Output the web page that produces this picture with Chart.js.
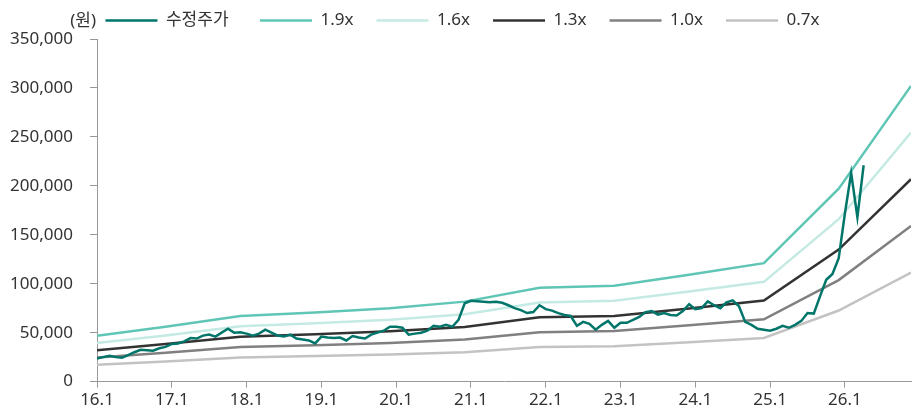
<!DOCTYPE html>
<html>
<head>
<meta charset="utf-8">
<script src="https://cdn.jsdelivr.net/npm/chart.js@4"></script>
<style>
  html, body { margin: 0; padding: 0; background: #fff; }
  #wrap { width: 915px; height: 412px; }
</style>
</head>
<body>
<div id="wrap"><canvas id="pbr"></canvas></div>
<script>
// x axis: month index from 16.1 (0)
const tickLabels = ['16.1', '17.1', '18.1', '19.1', '20.1', '21.1', '22.1', '23.1', '24.1', '25.1', '26.1'];

// 수정주가, monthly (천원)
const price = [
  23.5, 25, 26.5, 25, 24.5, 27, 30, 32.5, 32, 31.5, 34, 35.5,
  38.5, 39, 41, 44.5, 44, 47, 48, 46, 50, 54, 50, 50.5,
  49, 47, 49, 53, 50, 47, 46, 48, 44, 43, 42, 39,
  46, 45, 44.5, 45, 42, 46.5, 45, 44, 48, 50, 52, 56,
  56, 55, 48, 49, 50, 52, 57, 56, 58, 56, 63, 80,
  82.5, 82, 81.5, 81, 81.5, 80.5, 78, 75, 73, 70, 71, 78,
  74, 72.5, 70, 68, 67, 57, 61, 59, 53, 58, 62, 55,
  60, 60, 63, 66, 71, 72, 68.5, 70, 68, 67.5, 72, 79,
  74, 75, 82, 78, 75, 81, 83, 77, 61, 58, 54, 53,
  52, 54, 57, 55, 58, 62, 70, 69.5, 87, 104, 110, 126,
  172, 213, 168, 221
];

// BPS at year-end points (천원)
const bpsMonths = [0, 11, 23, 35, 47, 59, 71, 83, 95, 107, 119, 130.6];
const bps = [24.7, 29.5, 35.3, 37.2, 39.5, 43, 50.5, 51.6, 57.5, 63.7, 103.7, 159];

const multiples = [1.9, 1.6, 1.3, 1.0, 0.7];
const bandNames = ['1.9x', '1.6x', '1.3x', '1.0x', '0.7x'];
const bandColors = ['#5fc6b6', '#c4eae3', '#333333', '#808080', '#c3c3c3'];

const FONT = "'Noto Sans', 'Noto Sans CJK KR', sans-serif";
const FS = 17;

const datasets = [{
  label: '수정주가',
  data: price.map((v, i) => ({ x: i, y: v * 1000 })),
  borderColor: '#00756a',
  borderWidth: 2.5
}];
multiples.forEach((m, k) => {
  datasets.push({
    label: bandNames[k],
    data: bpsMonths.map((x, i) => ({ x: x, y: bps[i] * m * 1000 })),
    borderColor: bandColors[k],
    borderWidth: 2.5
  });
});
datasets.forEach(d => {
  d.pointRadius = 0;
  d.pointHoverRadius = 0;
  d.tension = 0;
  d.fill = false;
  d.backgroundColor = d.borderColor;
});

const unitLabel = {
  id: 'unitLabel',
  afterLayout(chart) {
    // 범례를 조금 오른쪽으로
    if (chart.legend) chart.legend.left = 14;
  },
  afterDraw(chart) {
    const ctx = chart.ctx;
    ctx.save();
    ctx.font = FS + 'px ' + FONT;
    ctx.fillStyle = '#333';
    ctx.textAlign = 'right';
    ctx.textBaseline = 'middle';
    ctx.fillText('(원)', 96, 21);
    ctx.restore();
  }
};

new Chart(document.getElementById('pbr'), {
  type: 'line',
  data: { datasets: datasets },
  plugins: [unitLabel],
  options: {
    responsive: true,
    maintainAspectRatio: false,
    animation: false,
    layout: { padding: { top: -11, right: 4, left: 0, bottom: 0 } },
    plugins: {
      tooltip: { enabled: false },
      legend: {
        display: true,
        position: 'top',
        labels: {
          usePointStyle: true,
          pointStyle: 'line',
          pointStyleWidth: 52,
          padding: 23,
          color: '#333',
          font: { family: FONT, size: FS },
          generateLabels: chart => {
            const items = Chart.defaults.plugins.legend.labels.generateLabels(chart);
            // 한글 라벨 폭 보정
            items[0].text = items[0].text + '\u2002';
            return items;
          }
        }
      }
    },
    scales: {
      x: {
        type: 'linear',
        min: 0,
        max: 130.6,
        grid: { drawOnChartArea: false, drawTicks: true, tickLength: 6, color: '#999' },
        border: { display: true, color: '#999', width: 1 },
        ticks: {
          stepSize: 12,
          includeBounds: false,
          autoSkip: false,
          maxRotation: 0,
          padding: 2,
          color: '#333',
          font: { family: FONT, size: FS },
          callback: v => tickLabels[v / 12]
        }
      },
      y: {
        min: 0,
        max: 350000,
        afterFit: s => { s.width = 97; },
        grid: { drawOnChartArea: false, drawTicks: true, tickLength: 7, color: '#999' },
        border: { display: true, color: '#999', width: 1 },
        ticks: {
          stepSize: 50000,
          padding: 17,
          color: '#333',
          font: { family: FONT, size: FS },
          callback: v => v.toLocaleString('en-US')
        }
      }
    }
  }
});
</script>
</body>
</html>
